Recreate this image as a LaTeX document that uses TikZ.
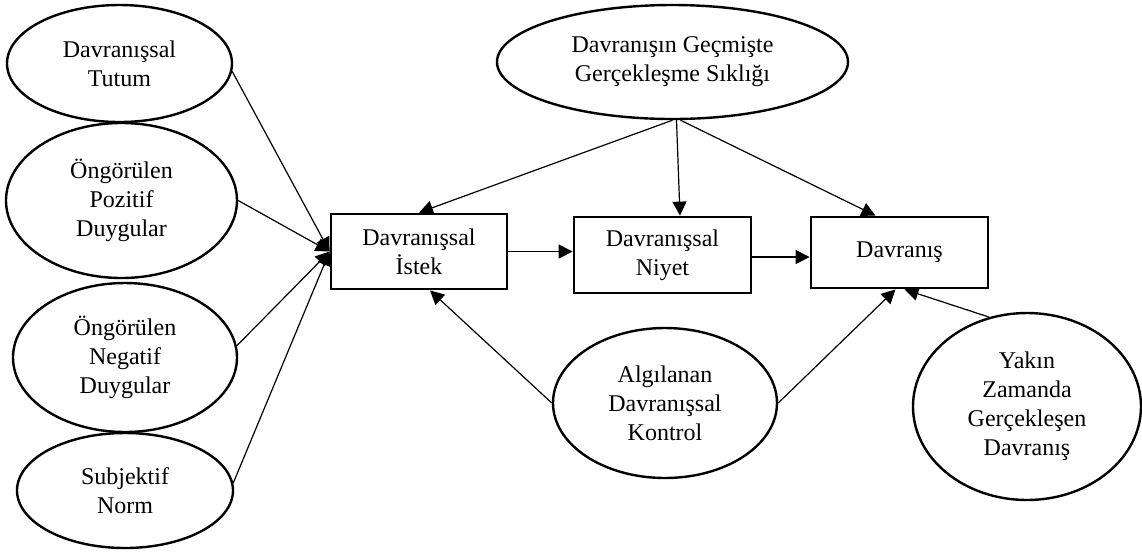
\documentclass[tikz,border=0pt]{standalone}
\usepackage{fontspec}
\setmainfont{Liberation Serif}
\usetikzlibrary{shapes.geometric,arrows.meta,calc}
\begin{document}
\begin{tikzpicture}[x=0.5pt,y=-0.5pt,
  lbl/.style={align=center, font=\fontsize{12}{14.5}\selectfont},
  oval/.style={lbl, draw, ellipse, line width=1.2pt, inner sep=0pt},
  box/.style={lbl, draw, rectangle, line width=1.4pt, inner sep=0pt},
  link/.style={line width=0.6pt, -{Triangle[length=7pt,width=7pt]}}]
\useasboundingbox (0,0) rectangle (1142,554);

% predictors on the left
\node[oval, minimum width=112.5pt, minimum height=58.5pt] (tutum)  at (119.5,63.5) {Davranışsal\\Tutum};
\node[oval, minimum width=115.5pt, minimum height=77.5pt] (pozitif) at (121.5,200.5) {Öngörülen\\Pozitif\\Duygular};
\node[oval, minimum width=112pt,   minimum height=74.5pt] (negatif) at (125,357.5) {Öngörülen\\Negatif\\Duygular};
\node[oval, minimum width=108pt,   minimum height=57.5pt] (norm)    at (125,490.5) {Subjektif\\Norm};

% past behaviour frequency
\node[oval, minimum width=175.5pt, minimum height=57pt] (gecmis) at (672.5,62) {Davranışın Geçmişte\\Gerçekleşme Sıklığı};

% main chain
\node[box, minimum width=88pt,   minimum height=37.5pt] (istek)    at (419,251.5) {Davranışsal\\İstek};
\node[box, minimum width=88.5pt, minimum height=38pt]   (niyet)    at (662.5,255) {Davranışsal\\Niyet};
\node[box, minimum width=88.5pt, minimum height=35.5pt] (davranis) at (899.5,252.5) {Davranış};

% control and recent behaviour
\node[oval, minimum width=112pt, minimum height=75pt]   (kontrol) at (665,403) {Algılanan\\Davranışsal\\Kontrol};
\node[oval, minimum width=114pt, minimum height=93.5pt] (yakin)   at (1027,406.5) {Yakın\\Zamanda\\Gerçekleşen\\Davranış};

% paths into the desire
\draw[link] (tutum.-4) -- (istek.west);
\draw[link] (pozitif.east) -- (istek.west);
\draw[link] (negatif.6) -- (istek.west);
\draw[link] (norm.4) -- (istek.west);

% paths from past frequency
\draw[link] (gecmis.south) -- (istek.north);
\draw[link] ([xshift=2pt]gecmis.south) -- ([xshift=8.75pt]niyet.north);
\draw[link] ([xshift=4pt]gecmis.south) -- ([xshift=-12pt]davranis.north);

% desire -> intention -> behaviour
\draw[link] (istek.east) -- (istek.east -| niyet.west);
\draw[link] ([yshift=-1pt]niyet.east) -- ([yshift=-1pt]niyet.east -| davranis.west);

% perceived control and recent behaviour
\draw[link] (kontrol.west) -- ([xshift=5.5pt]istek.south);
\draw[link] (kontrol.east) -- ([xshift=-2pt]davranis.south);
\draw[link] (yakin.113) -- ([xshift=2.5pt]davranis.south);
\end{tikzpicture}
\end{document}
